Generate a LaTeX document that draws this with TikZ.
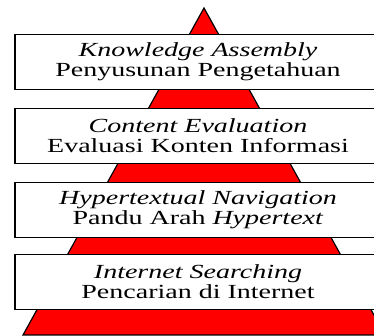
\documentclass[tikz,border=0pt]{standalone}
\usepackage{fontspec}
\setmainfont{Liberation Serif}[FakeStretch=1.4]
\begin{document}
\begin{tikzpicture}[x=1pt,y=1pt,
  layerbox/.style={draw=black, line width=1.2pt, fill=white, minimum width=366pt,
    minimum height=55pt, inner sep=0pt, align=center,
    font=\fontsize{20}{20}\selectfont}]
\useasboundingbox (0,0) rectangle (374,336);
\fill[white] (0,0) rectangle (374,336);
\clip (0,0) rectangle (374,336);
\draw[fill=red, line width=1.2pt] (204,328) -- (23,1) -- (385,1) -- cycle;
\node[layerbox] (ka) at (198,274) {\textit{Knowledge Assembly}\\Penyusunan Pengetahuan};
\node[layerbox] (ce) at (198,200) {\textit{Content Evaluation}\\Evaluasi Konten Informasi};
\node[layerbox] (hn) at (198,126) {\textit{Hypertextual Navigation}\\Pandu Arah \textit{Hypertext}};
\node[layerbox] (is) at (198,54) {\textit{Internet Searching}\\Pencarian di Internet};
\end{tikzpicture}
\end{document}
